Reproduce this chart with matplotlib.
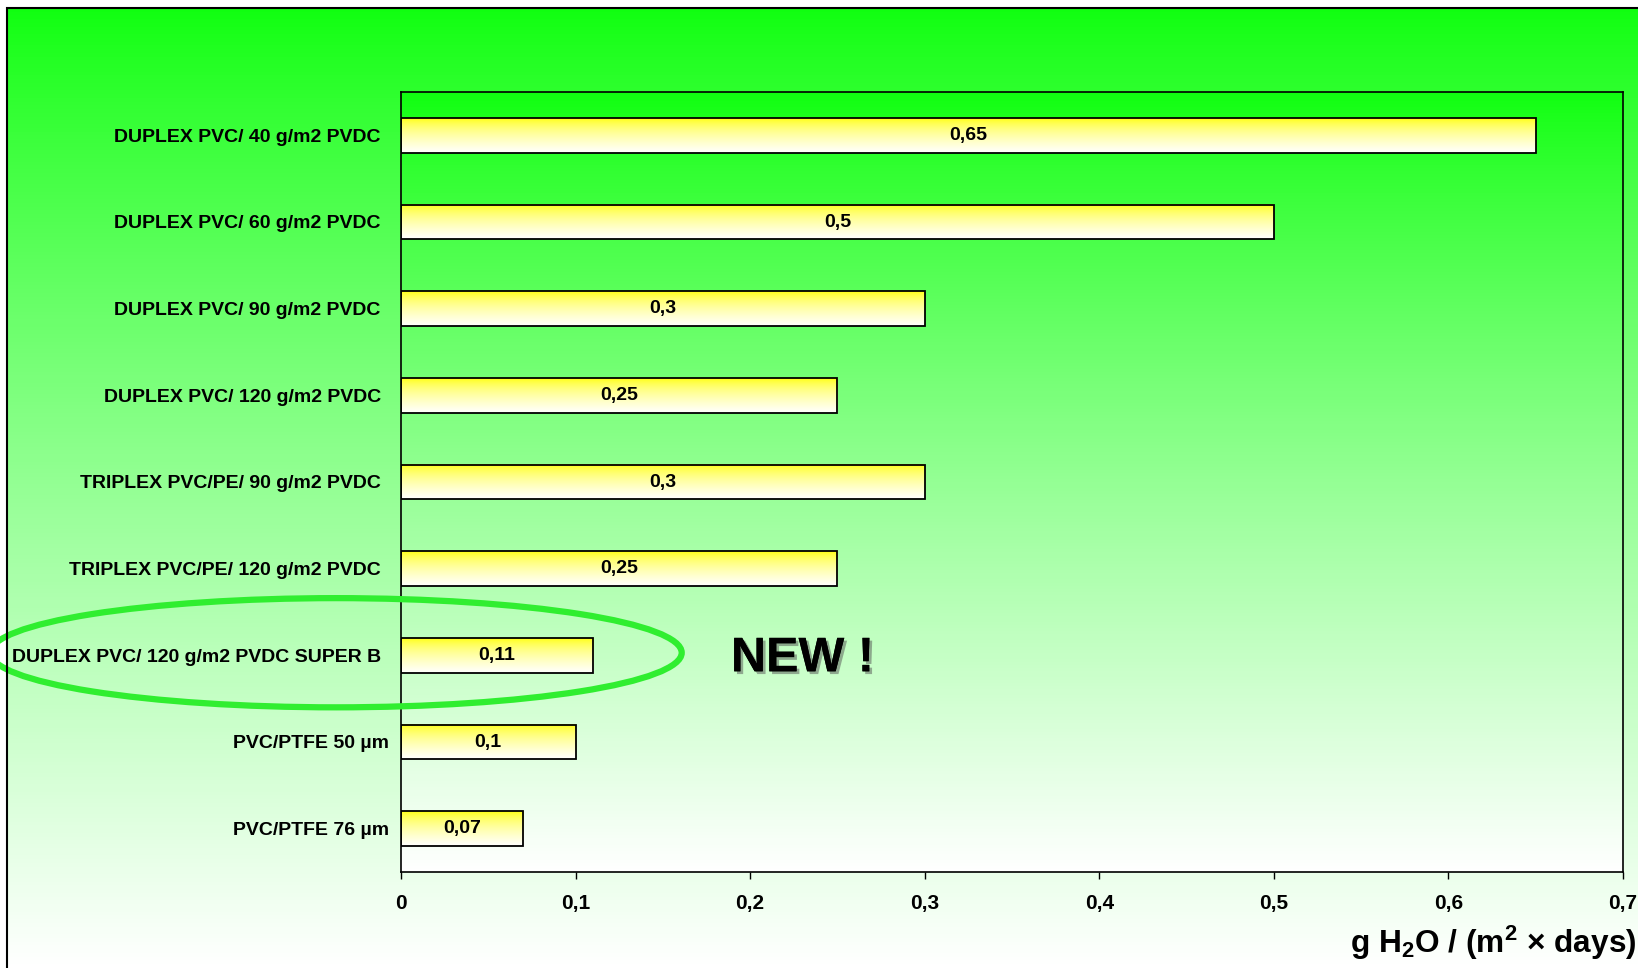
import numpy as np
import matplotlib
matplotlib.use("Agg")
import matplotlib.pyplot as plt
from matplotlib.patches import Rectangle, Ellipse
import matplotlib.patheffects as pe
import matplotlib.transforms as mtransforms

plt.rcParams['font.family'] = ['Liberation Sans', 'DejaVu Sans']
plt.rcParams['font.weight'] = 'bold'
plt.rcParams['mathtext.fontset'] = 'custom'
plt.rcParams['mathtext.rm'] = 'Liberation Sans:bold'
plt.rcParams['mathtext.it'] = 'Liberation Sans:bold'
plt.rcParams['mathtext.bf'] = 'Liberation Sans:bold'
plt.rcParams['mathtext.default'] = 'rm'

# data
categories = [
    "DUPLEX PVC/ 40 g/m2 PVDC",
    "DUPLEX PVC/ 60 g/m2 PVDC",
    "DUPLEX PVC/ 90 g/m2 PVDC",
    "DUPLEX PVC/ 120 g/m2 PVDC",
    "TRIPLEX PVC/PE/ 90 g/m2 PVDC",
    "TRIPLEX PVC/PE/ 120 g/m2 PVDC",
    "DUPLEX PVC/ 120 g/m2 PVDC SUPER B",
    "PVC/PTFE 50 µm",
    "PVC/PTFE 76 µm",
]
values = [0.65, 0.5, 0.3, 0.25, 0.3, 0.25, 0.11, 0.1, 0.07]
value_labels = ["0,65", "0,5", "0,3", "0,25", "0,3", "0,25", "0,11", "0,1", "0,07"]
xticks = [0, 0.1, 0.2, 0.3, 0.4, 0.5, 0.6, 0.7]
xtick_labels = ["0", "0,1", "0,2", "0,3", "0,4", "0,5", "0,6", "0,7"]
highlight = 6

W, H = 1638, 968
fig = plt.figure(figsize=(W / 100, H / 100), dpi=100)
fig.patch.set_facecolor('white')

green = np.array([16, 255, 16]) / 255.0
white = np.array([1.0, 1.0, 1.0])


def vgrad(c_top, c_bot, n=256, gamma=1.0):
    t = np.linspace(0, 1, n) ** gamma
    g = c_top[None, :] * (1 - t[:, None]) + c_bot[None, :] * t[:, None]
    return g[:, None, :]


# figure background gradient + frame
bg = fig.add_axes([7 / W, 0, 1 - 7 / W, 1 - 8 / H], zorder=-10)
bg.imshow(vgrad(green, white, gamma=0.85), aspect='auto', extent=[0, 1, 0, 1])
bg.set_axis_off()
fig.add_artist(Rectangle((7 / W, -0.1), 1.2, 1.1 - 8 / H, transform=fig.transFigure,
                         fill=False, edgecolor='black', linewidth=1.5))

ax = fig.add_axes([401 / W, 1 - 872 / H, (1623 - 401) / W, (872 - 92) / H])
n = len(categories)
ax.imshow(vgrad(green, white, gamma=0.85), aspect='auto',
          extent=[0, 0.7, n - 0.5, -0.5], zorder=0)

bar_h = 0.4
bar_grad = vgrad(np.array([1.0, 1.0, 0.0]), white, gamma=0.6)
for i, (v, lab) in enumerate(zip(values, value_labels)):
    ax.imshow(bar_grad, aspect='auto', extent=[0, v, i + bar_h / 2, i - bar_h / 2], zorder=2)
    ax.add_patch(Rectangle((0, i - bar_h / 2), v, bar_h, fill=False,
                           edgecolor='black', linewidth=1.3, zorder=3))
    ax.text(v / 2, i, lab, ha='center', va='center', fontsize=14,
            fontweight='bold', zorder=4)

ax.set_xlim(0, 0.7)
ax.set_ylim(n - 0.5, -0.5)
ax.set_yticks(range(n))
ax.set_yticklabels(categories, fontsize=14, fontweight='bold')
ax.tick_params(axis='y', length=0, pad=14.5)
# the two PTFE labels sit a bit closer to the axis
for t in ax.get_yticklabels():
    if 'PTFE' in t.get_text():
        t.set_transform(t.get_transform() +
                        mtransforms.ScaledTranslation(8.5 / 100, 0, fig.dpi_scale_trans))
ax.set_xticks(xticks)
ax.set_xticklabels(xtick_labels, fontsize=15, fontweight='bold')
ax.tick_params(axis='x', direction='out', length=5, width=1, pad=11)
for s in ax.spines.values():
    s.set_linewidth(1.2)
    s.set_color('black')

fig.text(1636 / W, 1 - 953 / H, 'g H$_2$O / (m$^2$ × days)', ha='right',
         va='baseline', fontsize=22.8, fontweight='bold')

# highlight ellipse and NEW label
ax.add_patch(Ellipse((-0.0372, highlight - 0.03), 0.396, 1.26, fill=False,
                     edgecolor='#30ee30', linewidth=4.5, clip_on=False, zorder=5))
ax.text(0.189, highlight + 0.04, 'NEW !', ha='left', va='center', fontsize=35,
        fontweight='bold', zorder=5,
        path_effects=[pe.withSimplePatchShadow(offset=(2, -2), shadow_rgbFace='#555555', alpha=0.5),
                      pe.Normal()])

fig.savefig('out.png', dpi=100)
